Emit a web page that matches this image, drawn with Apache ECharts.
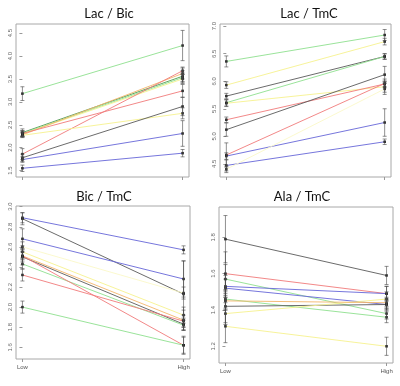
<!DOCTYPE html>
<html>
<head>
<meta charset="utf-8">
<script src="https://cdn.jsdelivr.net/npm/echarts@6/dist/echarts.min.js"></script>
<style>
  html, body { margin: 0; padding: 0; background: #fff; }
  #main { width: 400px; height: 386px; }
</style>
</head>
<body>
<div id="main"></div>
<script>
// levels on the x axis
const levels = ['Low', 'High'];

// Lac / Bic
const lacBicLow = [3.18, 2.33, 2.31, 2.30, 2.28, 1.86, 2.31, 2.27, 1.78, 1.74, 1.55];
const lacBicHigh = [4.23, 3.56, 3.53, 3.50, 3.62, 3.68, 3.24, 2.75, 2.90, 2.31, 1.88];
const lacBicLowErr = [0.15, 0.08, 0.06, 0.06, 0.05, 0.12, 0.06, 0.05, 0.08, 0.06, 0.07];
const lacBicHighErr = [0.33, 0.12, 0.10, 0.10, 0.12, 0.08, 0.14, 0.12, 0.20, 0.28, 0.08];
const lacBicTicks = [1.5, 2.0, 2.5, 3.0, 3.5, 4.0, 4.5];

// Lac / TmC
const lacTmcLow = [6.36, 5.93, 5.73, 5.61, 5.60, 5.30, 5.12, 4.66, 4.64, 4.47, 4.40];
const lacTmcHigh = [6.84, 6.72, 6.45, 6.45, 5.90, 5.95, 6.12, 5.96, 5.25, 4.90, 5.86];
const lacTmcLowErr = [0.10, 0.06, 0.05, 0.06, 0.06, 0.05, 0.12, 0.22, 0.06, 0.10, 0.06];
const lacTmcHighErr = [0.10, 0.06, 0.05, 0.05, 0.10, 0.05, 0.15, 0.08, 0.25, 0.05, 0.10];
const lacTmcTicks = [4.5, 5.0, 5.5, 6.0, 6.5, 7.0];

// Bic / TmC
const bicTmcLow = [2.89, 2.88, 2.68, 2.60, 2.55, 2.50, 2.51, 2.43, 2.32, 2.51, 2.00];
const bicTmcHigh = [2.57, 2.13, 2.28, 2.14, 1.92, 1.83, 1.87, 1.82, 1.86, 1.62, 1.62];
const bicTmcLowErr = [0.05, 0.06, 0.10, 0.05, 0.06, 0.08, 0.06, 0.05, 0.06, 0.04, 0.06];
const bicTmcHighErr = [0.04, 0.33, 0.18, 0.06, 0.08, 0.06, 0.10, 0.05, 0.06, 0.08, 0.09];
const bicTmcTicks = [1.6, 1.8, 2.0, 2.2, 2.4, 2.6, 2.8, 3.0];

// Ala / TmC
const alaTmcLow = [1.79, 1.60, 1.57, 1.53, 1.52, 1.46, 1.42, 1.38, 1.45, 1.31];
const alaTmcHigh = [1.59, 1.49, 1.38, 1.49, 1.43, 1.36, 1.43, 1.46, 1.44, 1.20];
const alaTmcLowErr = [0.13, 0.12, 0.08, 0.06, 0.05, 0.05, 0.09, 0.06, 0.05, 0.09];
const alaTmcHighErr = [0.05, 0.04, 0.03, 0.04, 0.03, 0.03, 0.03, 0.04, 0.03, 0.05];
const alaTmcTicks = [1.2, 1.4, 1.6, 1.8];

// line colours per subject (style only)
const C = {
  green: '#8fe08f', dgreen: '#4f9a4f', yellow: '#f6f28e', pale: '#fbf8c8',
  black: '#5a5a5a', blue: '#6767d8', red: '#f07a7a', orange: '#f3b56a'
};

const panels = [
  { title: 'Lac / Bic', low: lacBicLow, high: lacBicHigh, lowErr: lacBicLowErr, highErr: lacBicHighErr,
    ticks: lacBicTicks, min: 1.36, max: 4.70, showX: false,
    grid: { left: 16, top: 24, width: 173, height: 153 }, tx: 109, ty: 7,
    colors: [C.green, C.dgreen, C.green, C.yellow, C.orange, C.red, C.red, C.yellow, C.black, C.blue, C.blue] },
  { title: 'Lac / TmC', low: lacTmcLow, high: lacTmcHigh, lowErr: lacTmcLowErr, highErr: lacTmcHighErr,
    ticks: lacTmcTicks, min: 4.26, max: 7.04, showX: false,
    grid: { left: 220, top: 24, width: 171, height: 153 }, tx: 309, ty: 7,
    colors: [C.green, C.yellow, C.black, C.green, C.yellow, C.red, C.black, C.red, C.blue, C.blue, C.pale] },
  { title: 'Bic / TmC', low: bicTmcLow, high: bicTmcHigh, lowErr: bicTmcLowErr, highErr: bicTmcHighErr,
    ticks: bicTmcTicks, min: 1.483, max: 3.007, showX: true,
    grid: { left: 16, top: 206, width: 174, height: 153 }, tx: 104, ty: 190,
    colors: [C.blue, C.black, C.blue, C.pale, C.yellow, C.black, C.orange, C.green, C.red, C.red, C.green] },
  { title: 'Ala / TmC', low: alaTmcLow, high: alaTmcHigh, lowErr: alaTmcLowErr, highErr: alaTmcHighErr,
    ticks: alaTmcTicks, min: 1.108, max: 1.967, showX: true,
    grid: { left: 219, top: 207, width: 174, height: 156 }, tx: 302, ty: 190,
    colors: [C.black, C.red, C.green, C.blue, C.blue, C.green, C.black, C.yellow, C.orange, C.yellow] }
];

const grids = [], xAxes = [], yAxes = [], titles = [], series = [];

panels.forEach((p, i) => {
  grids.push(Object.assign({ show: true, borderColor: '#a8a8a8', borderWidth: 1, backgroundColor: '#fff' }, p.grid));
  titles.push({
    text: p.title, left: p.tx, top: p.ty, textAlign: 'center', padding: 0,
    textStyle: { fontFamily: 'Lato', fontSize: 13, fontWeight: 'normal', color: '#111' }
  });
  xAxes.push({
    type: 'value', gridIndex: i, min: -0.04, max: 1.04,
    axisLine: { show: false }, splitLine: { show: false },
    axisTick: { show: true, length: 3, customValues: [0, 1], lineStyle: { color: '#999' } },
    axisLabel: {
      show: p.showX, customValues: [0, 1], fontSize: 6, color: '#555', margin: 5,
      fontFamily: 'Liberation Sans',
      formatter: v => levels[Math.round(v)]
    }
  });
  yAxes.push({
    type: 'value', gridIndex: i, min: p.min, max: p.max,
    axisLine: { show: false }, splitLine: { show: false },
    axisTick: { show: true, length: 3, customValues: p.ticks, lineStyle: { color: '#999' } },
    axisLabel: {
      customValues: p.ticks, rotate: 90, fontSize: 6, color: '#666', margin: 3,
      fontFamily: 'Liberation Sans', formatter: v => v.toFixed(1)
    }
  });

  p.low.forEach((lo, j) => {
    series.push({
      type: 'line', xAxisIndex: i, yAxisIndex: i,
      data: [[0, lo], [1, p.high[j]]],
      symbol: 'rect', symbolSize: 2.5, showSymbol: true,
      lineStyle: { color: p.colors[j], width: 0.9 },
      itemStyle: { color: '#222' },
      z: 2, silent: true
    });
  });

  const errData = p.low.map((lo, j) => [0, lo, p.lowErr[j]])
    .concat(p.high.map((hi, j) => [1, hi, p.highErr[j]]));
  series.push({
    type: 'custom', xAxisIndex: i, yAxisIndex: i, z: 3, silent: true,
    data: errData,
    renderItem: (params, api) => {
      const x = api.value(0), y = api.value(1), e = api.value(2);
      const top = api.coord([x, y + e]);
      const bot = api.coord([x, y - e]);
      const st = { stroke: '#444', lineWidth: 0.6 };
      return {
        type: 'group',
        children: [
          { type: 'line', shape: { x1: top[0], y1: top[1], x2: bot[0], y2: bot[1] }, style: st },
          { type: 'line', shape: { x1: top[0] - 2, y1: top[1], x2: top[0] + 2, y2: top[1] }, style: st },
          { type: 'line', shape: { x1: bot[0] - 2, y1: bot[1], x2: bot[0] + 2, y2: bot[1] }, style: st }
        ]
      };
    }
  });
});

const chart = echarts.init(document.getElementById('main'), null, { renderer: 'canvas' });
chart.setOption({
  animation: false,
  backgroundColor: '#fff',
  title: titles,
  grid: grids,
  xAxis: xAxes,
  yAxis: yAxes,
  series: series
});
</script>
</body>
</html>
